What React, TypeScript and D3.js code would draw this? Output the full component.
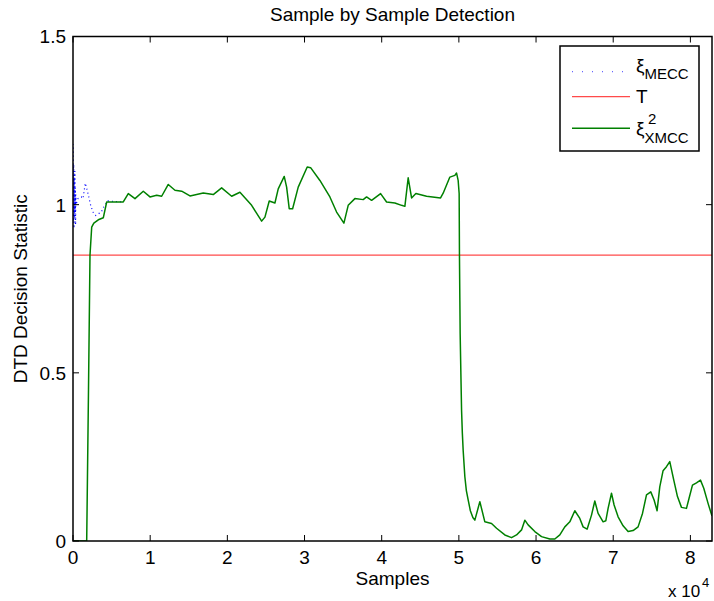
import React from "react";
import * as d3 from "d3";

const xmccSamples = [0, 1775, 2008, 2202, 2422, 2700, 3277, 3925, 4365, 6515, 7163, 8031, 9106, 9974, 10842, 11489, 12344, 13212, 14080, 15155, 16878, 18173, 19261, 20557, 21632, 23147, 24443, 24870, 25427, 26165, 26593, 27370, 27681, 28018, 28458, 29184, 30349, 30790, 31994, 33289, 34157, 35103, 35660, 36527, 37603, 38043, 38691, 39857, 40634, 41709, 42577, 43004, 43432, 43872, 44429, 45815, 47628, 47965, 48833, 49480, 49700, 49908, 50037, 50076, 50128, 50167, 50258, 50349, 50452, 50556, 50776, 50970, 51204, 51488, 51812, 52071, 52718, 53366, 54234, 54881, 55957, 56825, 57472, 58120, 58547, 58975, 59843, 60711, 61786, 62433, 63081, 63728, 64376, 65024, 65672, 66099, 66617, 67187, 67615, 68042, 68690, 69039, 69337, 69777, 70114, 70633, 71280, 71928, 72575, 73223, 73793, 74311, 74868, 75296, 75684, 76033, 76461, 76901, 77329, 77847, 78326, 78845, 79492, 79829, 80269, 80787, 81306, 81733, 82290, 82800];
const xmccValues = [0, 0, 0.45, 0.85, 0.933, 0.945, 0.955, 0.961, 1.008, 1.008, 1.033, 1.018, 1.04, 1.023, 1.028, 1.025, 1.06, 1.043, 1.04, 1.026, 1.035, 1.03, 1.05, 1.025, 1.037, 0.998, 0.951, 0.963, 1.011, 1.005, 1.047, 1.084, 1.052, 0.988, 0.988, 1.052, 1.112, 1.11, 1.072, 1.023, 0.978, 0.945, 0.998, 1.018, 1.015, 1.023, 1.013, 1.033, 1.008, 1.005, 0.998, 0.995, 1.08, 1.02, 1.033, 1.025, 1.02, 1.034, 1.082, 1.087, 1.094, 1.072, 1.033, 0.85, 0.716, 0.617, 0.5, 0.389, 0.32, 0.27, 0.191, 0.15, 0.122, 0.09, 0.07, 0.062, 0.117, 0.057, 0.052, 0.038, 0.018, 0.01, 0.018, 0.033, 0.062, 0.048, 0.028, 0.013, 0.006, 0.006, 0.018, 0.042, 0.057, 0.09, 0.067, 0.042, 0.035, 0.077, 0.119, 0.082, 0.057, 0.06, 0.097, 0.142, 0.107, 0.072, 0.045, 0.028, 0.031, 0.042, 0.082, 0.137, 0.146, 0.122, 0.09, 0.161, 0.209, 0.221, 0.236, 0.181, 0.132, 0.1, 0.097, 0.127, 0.166, 0.173, 0.181, 0.157, 0.112, 0.074];

const meccSamples = [0, 30, 60, 90, 120, 150, 180, 210, 240, 270, 300, 330, 360, 400, 648, 1075, 1295, 1593, 1943, 2293, 2591, 2940, 3666, 4015, 4534, 6515];
const meccValues = [1.0, 1.18, 0.95, 1.12, 0.93, 1.08, 1.02, 0.96, 1.1, 0.98, 1.05, 0.94, 1.03, 1.0, 1.018, 1.023, 1.018, 1.064, 1.033, 0.998, 0.978, 0.968, 0.978, 0.995, 1.011, 1.008];

const threshold = 0.85;
const xTicks = [0, 1, 2, 3, 4, 5, 6, 7, 8];
const yTicks = [0, 0.5, 1, 1.5];
const yTickLabels = ["0", "0.5", "1", "1.5"];
const xMax = 82800;

export default function App() {
  const W = 714, H = 601;
  const L = 73, R = 712, T = 36.5, B = 541;
  const x = d3.scaleLinear().domain([0, xMax]).range([L, R]);
  const y = d3.scaleLinear().domain([0, 1.5]).range([B, T]);
  const line = d3.line<[number, number]>().x((d) => x(d[0])).y((d) => y(d[1]));
  const green = line(xmccSamples.map((s, i) => [s, xmccValues[i]] as [number, number]));
  const blue = line(meccSamples.map((s, i) => [s, meccValues[i]] as [number, number]));
  const font = "'Liberation Sans', Arial, Helvetica, sans-serif";
  const fs = 19;
  const tick = 6;
  return (
    <svg width={W} height={H} style={{ position: "absolute", left: 0, top: 0, background: "#fff" }} fontFamily={font}>
      <rect x={0} y={0} width={W} height={H} fill="#fff" />
      <defs>
        <clipPath id="plot">
          <rect x={L} y={T} width={R - L} height={B - T} />
        </clipPath>
      </defs>
      <g clipPath="url(#plot)">
        <line x1={x(0)} x2={x(xMax)} y1={y(threshold)} y2={y(threshold)} stroke="#ff4a4a" strokeWidth={1.3} />
        <path d={blue ?? ""} fill="none" stroke="#0000ff" strokeWidth={1.2} strokeDasharray="1 3" />
        <path d={green ?? ""} fill="none" stroke="#008000" strokeWidth={1.5} strokeLinejoin="round" />
      </g>
      {xTicks.map((t) => (
        <g key={"xt" + t}>
          <line x1={x(t * 1e4)} x2={x(t * 1e4)} y1={B} y2={B - tick} stroke="#000" strokeWidth={1} />
          <line x1={x(t * 1e4)} x2={x(t * 1e4)} y1={T} y2={T + tick} stroke="#000" strokeWidth={1} />
          <text x={x(t * 1e4)} y={564} textAnchor="middle" fontSize={fs} fill="#000">{t}</text>
        </g>
      ))}
      {yTicks.map((t, i) => (
        <g key={"yt" + t}>
          <line x1={L} x2={L + tick} y1={y(t)} y2={y(t)} stroke="#000" strokeWidth={1} />
          <line x1={R} x2={R - tick} y1={y(t)} y2={y(t)} stroke="#000" strokeWidth={1} />
          <text x={66} y={y(t)} dy="0.36em" textAnchor="end" fontSize={fs} fill="#000">{yTickLabels[i]}</text>
        </g>
      ))}
      <rect x={L} y={T} width={R - L} height={B - T} fill="none" stroke="#000" strokeWidth={1.5} />
      <text x={(L + R) / 2} y={21} textAnchor="middle" fontSize={fs} fill="#000">Sample by Sample Detection</text>
      <text x={(L + R) / 2} y={585} textAnchor="middle" fontSize={fs} fill="#000">Samples</text>
      <text transform={`translate(27, ${(T + B) / 2}) rotate(-90)`} textAnchor="middle" fontSize={fs} fill="#000">DTD Decision Statistic</text>
      <text x={668} y={597} fontSize={17} fill="#000">x 10</text>
      <text x={702} y={587} fontSize={13} fill="#000">4</text>
      <rect x={560} y={46} width={139} height={105} fill="#fff" stroke="#000" strokeWidth={1.5} />
      <line x1={572} x2={630} y1={71.7} y2={71.7} stroke="#0000ff" strokeWidth={1.2} strokeDasharray="1 9" opacity={0.6} />
      <line x1={572} x2={630} y1={96.7} y2={96.7} stroke="#ff4a4a" strokeWidth={1.3} />
      <line x1={572} x2={630} y1={128.3} y2={128.3} stroke="#008000" strokeWidth={1.5} />
      <text x={636} y={72} fontSize={fs} fill="#000">ξ<tspan fontSize={15} dy={7}>MECC</tspan></text>
      <text x={636} y={103} fontSize={fs} fill="#000">T</text>
      <text x={636} y={135} fontSize={fs} fill="#000">ξ<tspan fontSize={15} dy={8}>XMCC</tspan></text>
      <text x={648} y={124} fontSize={15} fill="#000">2</text>
    </svg>
  );
}
